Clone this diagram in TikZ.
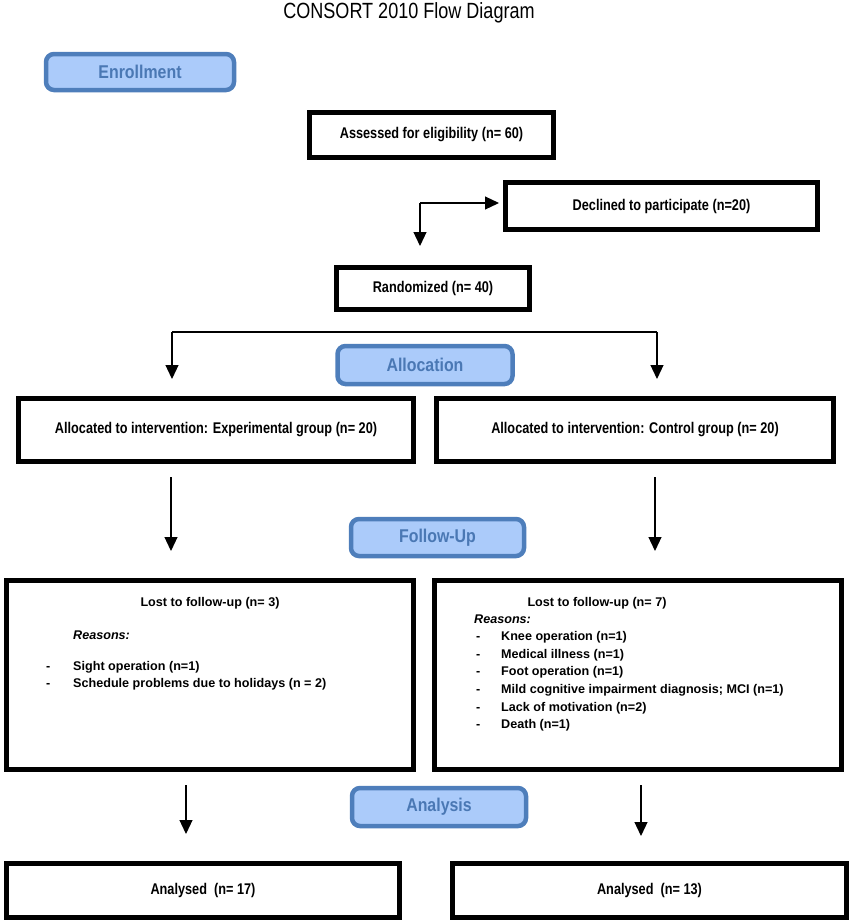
\documentclass[tikz,border=0pt]{standalone}
\usepackage{fontspec}
\setmainfont{Liberation Sans}
\newfontfamily\nar[FakeStretch=0.82]{Liberation Sans}
\newfontfamily\tnar[FakeStretch=0.86]{Liberation Sans}
\newfontfamily\ttl[FakeStretch=0.82]{Liberation Sans}
\usetikzlibrary{arrows.meta}
\definecolor{bfill}{HTML}{ABCBFA}
\definecolor{bdraw}{HTML}{4E7EBB}
\definecolor{btext}{HTML}{4A78B4}
\tikzset{
  bluebox/.style={draw=bdraw, fill=bfill, line width=4.5pt, rounded corners=8pt,
    text=btext, font=\tnar\bfseries\fontsize{18.5}{20}\selectfont, inner sep=0pt},
  blackbox/.style={draw=black, line width=5pt, inner sep=0pt,
    font=\nar\bfseries\fontsize{15.5}{17}\selectfont},
  arr/.style={line width=1.2pt, -{Triangle[width=13pt,length=14pt]}},
  conn/.style={line width=1.2pt},
  lt/.style={font=\bfseries\fontsize{12.6}{14}\selectfont, inner sep=0pt},
  lti/.style={font=\bfseries\itshape\fontsize{12.6}{14}\selectfont, inner sep=0pt},
}
\begin{document}
\begin{tikzpicture}[x=1pt,y=-1pt]
\useasboundingbox (0,0) rectangle (851,922);
\node[font=\ttl\fontsize{22}{24}\selectfont] (title) at (409,13) {CONSORT 2010 Flow Diagram};

\node[bluebox, minimum width=188, minimum height=36] (enr) at (140,72) {Enrollment};
\node[blackbox, minimum width=244, minimum height=45] (ass) at (431.5,135) {Assessed for eligibility (n= 60)};
\node[blackbox, minimum width=312, minimum height=47] (dec) at (661.5,206) {Declined to participate (n=20)};
\node[blackbox, minimum width=193, minimum height=42] (ran) at (433,288.5) {Randomized (n= 40)};

\coordinate (c1) at (420,203);
\draw[arr] (c1) -- ([xshift=-4pt]dec.west |- c1);
\draw[arr] (c1) -- (420,246);

\node[bluebox, minimum width=175, minimum height=38] (alo) at (425,365) {Allocation};
\node[blackbox, minimum width=395, minimum height=63] (alL) at (216,430) {Allocated to intervention: Experimental group (n= 20)};
\node[blackbox, minimum width=397, minimum height=63] (alR) at (635,430) {Allocated to intervention: Control group (n= 20)};

\coordinate (sl) at (172,332);
\coordinate (sr) at (657,332);
\draw[conn] (sl) -- (sr);
\draw[arr] (sl) -- (172,379);
\draw[arr] (sr) -- (657,379);

\node[bluebox, minimum width=173, minimum height=37] (fol) at (437.5,537.5) {Follow-Up};
\coordinate (a1) at (171,477);
\coordinate (a2) at (655,477);
\draw[arr] (a1) -- (171,551);
\draw[arr] (a2) -- (655,551);

\node[blackbox, minimum width=407, minimum height=189] (loL) at (210,675) {};
\node[blackbox, minimum width=407, minimum height=189] (loR) at (638,675) {};

\node[lt, anchor=base] (l1) at (210,606) {Lost to follow-up (n= 3)};
\node[lti, anchor=base west] (l2) at (73,639) {Reasons:};
\node[lt, anchor=base west] (l3d) at (46,670) {-};
\node[lt, anchor=base west] (l3) at (73,670) {Sight operation (n=1)};
\node[lt, anchor=base west] (l4d) at (46,687) {-};
\node[lt, anchor=base west] (l4) at (73,687) {Schedule problems due to holidays (n = 2)};

\node[lt, anchor=base] (r1) at (597,606) {Lost to follow-up (n= 7)};
\node[lti, anchor=base west] (r2) at (474,623) {Reasons:};
\foreach \t [count=\i] in {Knee operation (n=1), Medical illness (n=1), Foot operation (n=1), Mild cognitive impairment diagnosis; MCI (n=1), Lack of motivation (n=2), Death (n=1)} {
  \node[lt, anchor=base west] (rd\i) at (476,623+17.6*\i) {-};
  \node[lt, anchor=base west] (ri\i) at (501,623+17.6*\i) {\t};
}

\node[bluebox, minimum width=174, minimum height=38] (ana) at (439,807) {Analysis};
\coordinate (b1) at (186,785);
\coordinate (b2) at (641,785);
\draw[arr] (b1) -- (186,834);
\draw[arr] (b2) -- (641,836);

\node[blackbox, minimum width=393, minimum height=54] (anL) at (203,890.5) {Analysed\ \ (n= 17)};
\node[blackbox, minimum width=394, minimum height=54] (anR) at (649.5,890.5) {Analysed\ \ (n= 13)};
\end{tikzpicture}
\end{document}
